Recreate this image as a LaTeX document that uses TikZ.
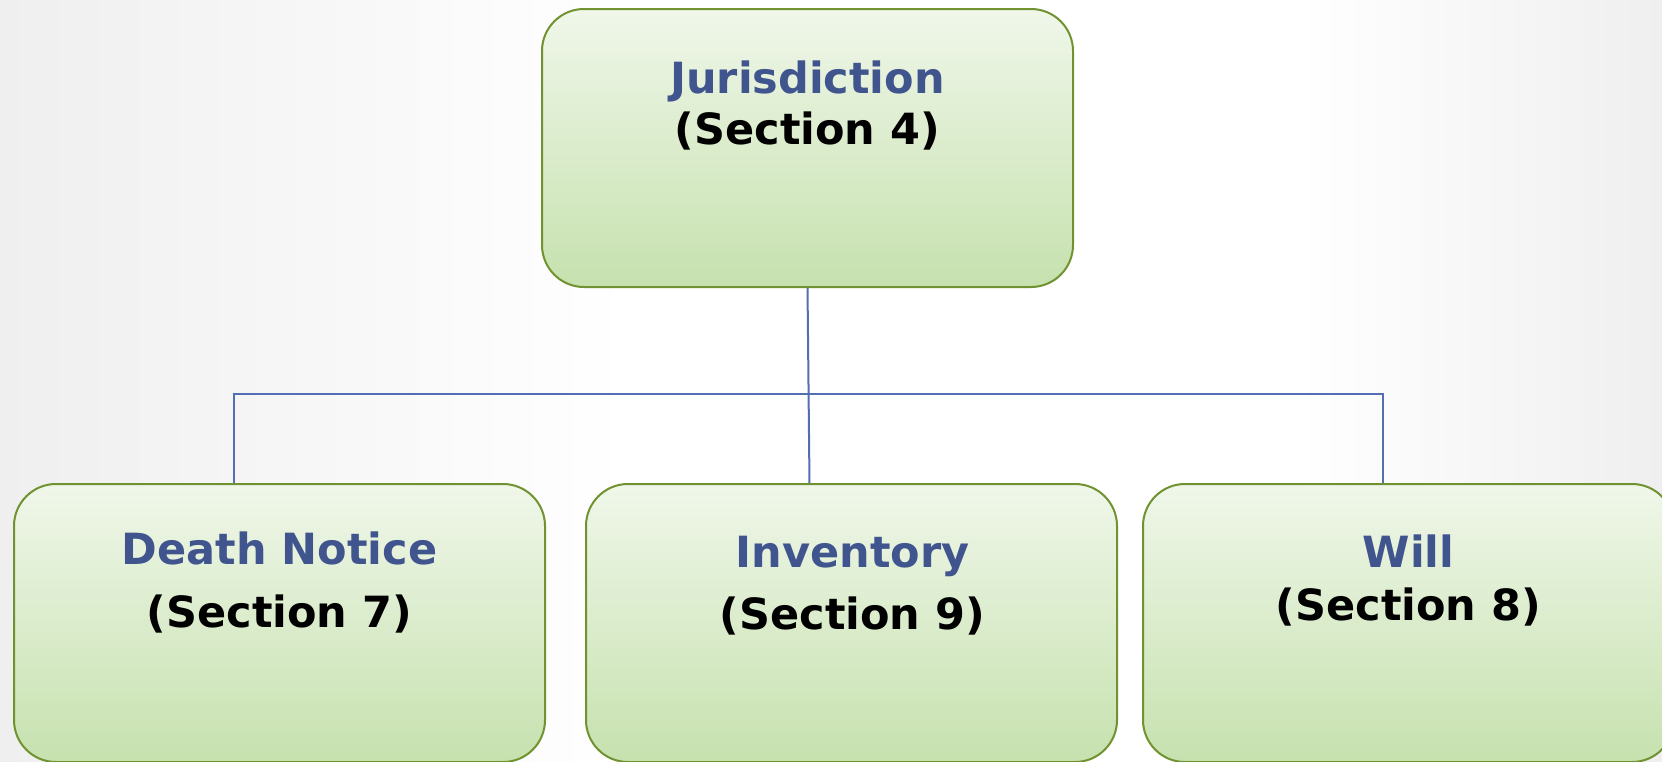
\documentclass[tikz,border=0pt]{standalone}
\usepackage{fontspec}
\setmainfont{DejaVu Sans}
\usepackage{xcolor}

\definecolor{boxedge}{RGB}{112,146,48}
\definecolor{boxtop}{RGB}{240,247,234}
\definecolor{boxbot}{RGB}{198,225,174}
\definecolor{titleblue}{RGB}{64,84,142}
\definecolor{linkblue}{RGB}{84,110,180}
\definecolor{bgedge}{RGB}{239,239,239}
\pgfdeclarehorizontalshading{bgshade}{100bp}{color(0bp)=(bgedge); color(25bp)=(bgedge); color(44bp)=(white); color(64bp)=(white); color(75bp)=(bgedge); color(100bp)=(bgedge)}

\tikzset{
  box/.style={draw=boxedge, line width=2pt, rounded corners=42pt,
    top color=boxtop, bottom color=boxbot,
    minimum width=531pt, minimum height=278pt, inner sep=0pt},
  lbl/.style={align=center, font=\bfseries\fontsize{43}{51}\selectfont},
  link/.style={draw=linkblue, line width=2pt}
}

\begin{document}
\begin{tikzpicture}[x=1pt,y=-1pt]
    \useasboundingbox (0,0) rectangle (1662,761);
    \clip (0,0) rectangle (1662,761);
    % Backdrop:
    \shade[shading=bgshade] (0,0) rectangle (1662,761);

    % Connectors (drawn first, boxes sit on top):
    \coordinate (bus-l) at (234,394);
    \coordinate (bus-r) at (1383,394);
    \coordinate (jur-s) at (807.5,287);
    \coordinate (inv-n) at (809.5,484);
    \draw[link] (jur-s) -- (inv-n);
    \draw[link] (bus-l |- inv-n) -- (bus-l) -- (bus-r) -- (bus-r |- inv-n);

    % Boxes:
    \node[box] (jur) at (807.5,148) {};
    \node[box] (dth) at (279.5,623) {};
    \node[box] (inv) at (851.5,623) {};
    \node[box] (wil) at (1408.5,623) {};

    % Labels:
    \node[lbl] (jur-lbl) at (807.5,105) {\textcolor{titleblue}{Jurisdiction}\\(Section 4)};
    \node[lbl] (dth-lbl) at (279.5,582) {\textcolor{titleblue}{Death Notice}\\[12pt](Section 7)};
    \node[lbl] (inv-lbl) at (852.5,586) {\textcolor{titleblue}{Inventory}\\[11pt](Section 9)};
    \node[lbl] (wil-lbl) at (1408.5,580) {\textcolor{titleblue}{Will}\\[2pt](Section 8)};
\end{tikzpicture}
\end{document}
